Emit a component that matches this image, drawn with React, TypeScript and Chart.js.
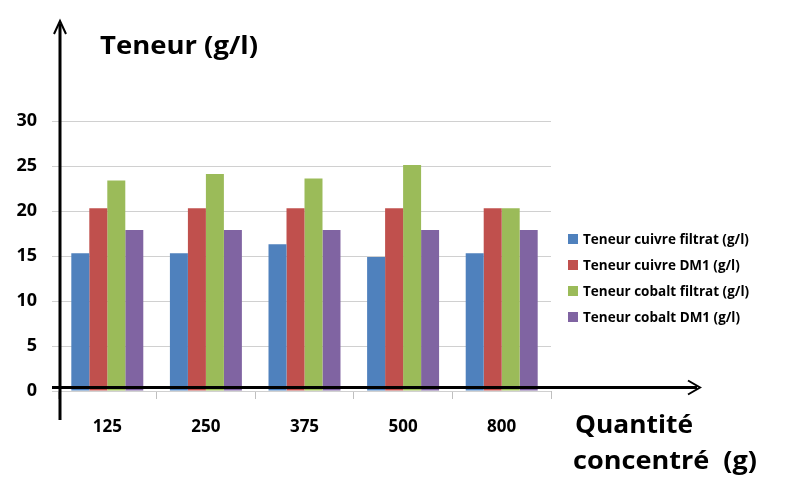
import React, { useEffect, useRef } from "react";
import { Chart, registerables } from "chart.js";

Chart.register(...registerables);

const categories = ["125", "250", "375", "500", "800"];
const seriesNames = [
  "Teneur cuivre filtrat (g/l)",
  "Teneur cuivre DM1 (g/l)",
  "Teneur cobalt filtrat (g/l)",
  "Teneur cobalt DM1 (g/l)",
];
const cuivreFiltrat = [15.3, 15.3, 16.3, 14.9, 15.3];
const cuivreDM1 = [20.3, 20.3, 20.3, 20.3, 20.3];
const cobaltFiltrat = [23.4, 24.1, 23.6, 25.1, 20.3];
const cobaltDM1 = [17.9, 17.9, 17.9, 17.9, 17.9];
const colors = ["#4F81BD", "#C0504D", "#9BBB59", "#8064A2"];
const yTicks = [0, 5, 10, 15, 20, 25, 30];

const FONT = "'Open Sans', Lato, sans-serif";

function fitText(ctx: CanvasRenderingContext2D, text: string, x: number, y: number, width: number) {
  const w = ctx.measureText(text).width;
  ctx.save();
  ctx.translate(x, y);
  ctx.scale(width / w, 1);
  ctx.fillText(text, 0, 0);
  ctx.restore();
}

const decorPlugin = {
  id: "decor",
  afterDraw(chart: any) {
    const ctx = chart.ctx as CanvasRenderingContext2D;
    const ys = chart.scales.y;
    const area = chart.chartArea;
    ctx.save();
    ctx.strokeStyle = "#000";
    ctx.fillStyle = "#000";
    ctx.lineWidth = 3;
    const ax = area.left + 2;
    const ay = ys.getPixelForValue(0) - 3.5;
    ctx.beginPath();
    ctx.moveTo(ax, 420);
    ctx.lineTo(ax, 24);
    ctx.stroke();
    ctx.lineWidth = 2;
    ctx.beginPath();
    ctx.moveTo(ax - 6, 34);
    ctx.lineTo(ax, 21);
    ctx.lineTo(ax + 6, 34);
    ctx.stroke();
    ctx.lineWidth = 3;
    ctx.beginPath();
    ctx.moveTo(52, ay);
    ctx.lineTo(697, ay);
    ctx.stroke();
    ctx.lineWidth = 2;
    ctx.beginPath();
    ctx.moveTo(688, ay - 7);
    ctx.lineTo(700, ay);
    ctx.lineTo(688, ay + 7);
    ctx.stroke();

    ctx.fillStyle = "#000";
    ctx.font = `bold 25px ${FONT}`;
    ctx.textBaseline = "middle";
    ctx.textAlign = "left";
    fitText(ctx, "Teneur (g/l)", 100, 47, 158);
    fitText(ctx, "Quantité", 575, 426, 118);
    fitText(ctx, "concentré  (g)", 573, 462, 184);

    ctx.font = `bold 13.5px ${FONT}`;
    chart.data.datasets.forEach((ds: any, i: number) => {
      const cy = 239 + i * 26;
      ctx.fillStyle = ds.backgroundColor;
      ctx.fillRect(568, cy - 5, 10, 10);
      ctx.fillStyle = "#000";
      ctx.fillText(ds.label, 583, cy + 1);
    });
    ctx.restore();
  },
};

export default function App() {
  const ref = useRef<HTMLCanvasElement>(null);
  useEffect(() => {
    if (!ref.current) return;
    const data = [cuivreFiltrat, cuivreDM1, cobaltFiltrat, cobaltDM1];
    const chart = new Chart(ref.current, {
      type: "bar",
      data: {
        labels: categories,
        datasets: seriesNames.map((name, i) => ({
          label: name,
          data: data[i],
          backgroundColor: colors[i],
          borderWidth: 0,
          categoryPercentage: 0.73,
          barPercentage: 1.0,
        })),
      },
      plugins: [decorPlugin],
      options: {
        animation: false,
        responsive: false,
        maintainAspectRatio: false,
        layout: { padding: { top: 121, right: 249, left: 0, bottom: 0 } },
        plugins: {
          legend: { display: false },
          tooltip: { enabled: false },
          title: { display: false },
        },
        scales: {
          x: {
            offset: true,
            border: { display: false },
            grid: {
              offset: true,
              drawOnChartArea: false,
              drawTicks: true,
              tickLength: 8,
              color: "#bfbfbf",
            },
            ticks: {
              padding: 18,
              color: "#000",
              font: { family: FONT, size: 17, weight: "bold" },
            },
            afterFit(scale: any) {
              scale.height = 90;
            },
          },
          y: {
            min: 0,
            max: 30,
            border: { display: false },
            afterBuildTicks(scale: any) {
              scale.ticks = yTicks.map((v) => ({ value: v }));
            },
            grid: {
              color: "#d0d0d0",
              tickLength: 6,
              lineWidth: 1,
            },
            ticks: {
              padding: 15,
              color: "#000",
              font: { family: FONT, size: 18, weight: "bold" },
            },
            afterFit(scale: any) {
              scale.width = 58;
            },
          },
        },
      },
    });
    return () => chart.destroy();
  }, []);
  return (
    <div style={{ position: "fixed", left: 0, top: 0, width: 800, height: 481, background: "#fff" }}>
      <canvas ref={ref} width={800} height={481} style={{ width: 800, height: 481 }} />
    </div>
  );
}
